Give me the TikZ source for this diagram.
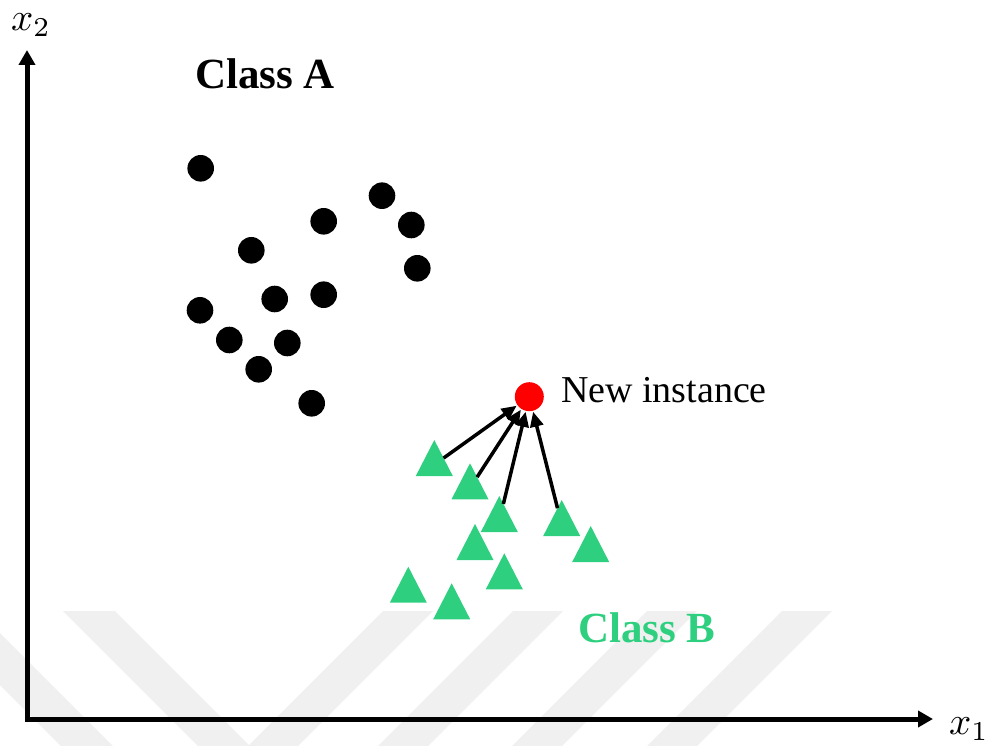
\documentclass[tikz,border=0pt]{standalone}
\usepackage{fontspec}
\setmainfont{Liberation Serif}[BoldFont={Liberation Serif Bold}]
\usetikzlibrary{shapes.geometric,arrows.meta}
\definecolor{clsgreen}{RGB}{46,208,128}
\definecolor{wmgray}{RGB}{240,240,240}
\begin{document}
\begin{tikzpicture}[x=1pt,y=-1pt,
  dotA/.style={circle,fill=black,minimum size=26.6pt,inner sep=0pt,outer sep=0pt},
  newdot/.style={circle,fill=red,minimum size=29pt,inner sep=0pt,outer sep=0pt},
  tri/.style={isosceles triangle,isosceles triangle stretches=true,fill=clsgreen,
    minimum width=37pt,minimum height=36pt,inner sep=0pt,outer sep=0pt,rotate=90,anchor=apex},
  axisline/.style={line width=5pt,line join=miter,
    {Triangle[length=15pt,width=16pt]}-{Triangle[length=15pt,width=16pt]}},
  link/.style={line width=3.5pt,-{Triangle[length=15pt,width=13pt]},shorten >=1pt},
  stripe/.style={fill=wmgray},
  lbl/.style={inner sep=0pt,outer sep=0pt},
  axlbl/.style={inner sep=0pt,font=\fontsize{10}{12}\selectfont,scale=3.9}]
\useasboundingbox (0,0) rectangle (994,746);
\fill[white] (0,0) rectangle (994,746);
% watermark stripes
\begin{scope}
\clip (0,0) rectangle (994,746);
\fill[stripe] (-74,611) -- (-22,611) -- (113,746) -- (61,746) -- cycle;
\fill[stripe] (63,611) -- (115,611) -- (250,746) -- (198,746) -- cycle;
\fill[stripe] (383,611) -- (433,611) -- (298,746) -- (248,746) -- cycle;
\fill[stripe] (513,611) -- (563,611) -- (428,746) -- (378,746) -- cycle;
\fill[stripe] (647,611) -- (697,611) -- (562,746) -- (512,746) -- cycle;
\fill[stripe] (782,611) -- (832,611) -- (697,746) -- (647,746) -- cycle;
\end{scope}
% axes
\coordinate (ytip) at (27,50);
\coordinate (origin) at (27,719);
\coordinate (xtip) at (933,719);
\draw[axisline] (ytip) -- (origin) -- (xtip);
\node[axlbl] (x2) at (31,25) {$x_2$};
\node[axlbl] (x1) at (969,729) {$x_1$};
% class A
\node[dotA] (a1) at (200.7,168.3) {};
\node[dotA] (a2) at (382,195.7) {};
\node[dotA] (a3) at (323.7,221.3) {};
\node[dotA] (a4) at (411.3,225) {};
\node[dotA] (a5) at (251.3,250.3) {};
\node[dotA] (a6) at (417.3,268.3) {};
\node[dotA] (a7) at (274.7,299) {};
\node[dotA] (a8) at (323.7,294.7) {};
\node[dotA] (a9) at (200,310.3) {};
\node[dotA] (a10) at (229.3,340) {};
\node[dotA] (a11) at (287.3,343) {};
\node[dotA] (a12) at (258.7,369.3) {};
\node[dotA] (a13) at (311.7,403.3) {};
\node[lbl,anchor=base west,font=\fontsize{43}{48}\selectfont\bfseries] (clsA) at (195,89) {Class A};
% class B
\node[tri] (t1) at (434.3,440) {};
\node[tri] (t2) at (470,463.3) {};
\node[tri] (t3) at (499.3,496) {};
\node[tri] (t4) at (561.7,500) {};
\node[tri] (t5) at (590.7,526) {};
\node[tri] (t6) at (475,524) {};
\node[tri] (t7) at (504.3,553.3) {};
\node[tri] (t8) at (408.3,566.7) {};
\node[tri] (t9) at (451.7,583.3) {};
\node[lbl,anchor=base west,text=clsgreen,font=\fontsize{43}{48}\selectfont\bfseries] (clsB) at (578,642) {Class B};
% new instance
\node[newdot] (new) at (529.3,396.7) {};
\node[lbl,anchor=base west,font=\fontsize{38}{44}\selectfont] (newlbl) at (561,402) {New instance};
\draw[link] (t1) -- (new);
\draw[link] (t2) -- (new);
\draw[link] (t3) -- (new);
\draw[link] (t4) -- (new);
\end{tikzpicture}
\end{document}
